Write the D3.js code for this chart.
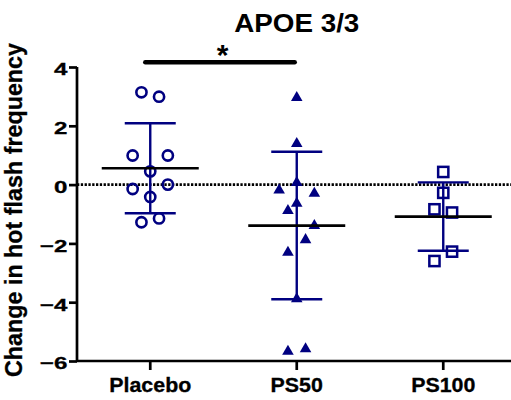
<!DOCTYPE html>
<html>
<head>
<meta charset="utf-8">
<script src="https://cdn.jsdelivr.net/npm/d3@7"></script>
<style>
  html, body { margin: 0; padding: 0; background: #fff; }
  svg { display: block; font-family: "Liberation Sans", Arial, sans-serif; font-weight: bold; }
</style>
</head>
<body>
<svg id="chart" width="511" height="400"></svg>
<script>
// Groups and per-subject change in hot flash frequency
const groups = ["Placebo", "PS50", "PS100"];
const placeboValues = [3.14, 2.99, 0.99, 0.99, 0.45, -0.15, 0.0, -0.42, -1.28, -1.15];
const ps50Values = [2.97, 1.41, 0.08, -0.17, -0.28, -0.62, -0.87, -1.38, -1.86, -2.29, -3.87, -5.66, -5.57];
const ps100Values = [0.43, -0.28, -0.84, -0.95, -2.28, -2.6];
// Horizontal scatter slot for each subject (-2 .. 2)
const placeboSlots = [-1, 1, -2, 2, 0, -2, 2, 0, -1, 1];
const ps50Slots = [0, 0, 0, -2, 2, 0, -1, 2, 1, -1, 0, -1, 1];
const ps100Slots = [0, 0, -1, 1, 1, -1];
const yTicks = [-6, -4, -2, 0, 2, 4];
const title = "APOE 3/3";
const yTitle = "Change in hot flash frequency";
const sigPair = ["Placebo", "PS50"];
const sigLabel = "*";

const navy = "#000080";
const series = [
  { group: "Placebo", values: placeboValues, slots: placeboSlots, shape: "circle" },
  { group: "PS50", values: ps50Values, slots: ps50Slots, shape: "triangle" },
  { group: "PS100", values: ps100Values, slots: ps100Slots, shape: "square" }
];

const svg = d3.select("#chart");
const plotLeft = 77, plotRight = 516.5, plotTop = 67, plotBottom = 361;

const x = d3.scaleBand().domain(groups).range([plotLeft, plotRight]).padding(0);
const y = d3.scaleLinear().domain([-6, 4]).range([plotBottom, plotTop]);
const cx = g => x(g) + x.bandwidth() / 2;
const slotStep = 8.8;

// Title
svg.append("text")
  .attr("transform", `translate(${cx("PS50")},32) scale(1.07,1)`)
  .attr("text-anchor", "middle")
  .attr("font-size", 26)
  .text(title);

// Y axis title
svg.append("text")
  .attr("transform", `translate(22,210) rotate(-90)`)
  .attr("text-anchor", "middle")
  .attr("font-size", 23.3)
  .attr("stroke", "#000").attr("stroke-width", 0.3)
  .text(yTitle);

// Zero reference line
svg.append("line")
  .attr("x1", plotLeft).attr("x2", 511)
  .attr("y1", y(0)).attr("y2", y(0))
  .attr("stroke", "#000").attr("stroke-width", 2.6)
  .attr("stroke-dasharray", "2.3,1.5");

// Axes
const yAxis = svg.append("g")
  .attr("transform", `translate(${plotLeft},0)`)
  .call(d3.axisLeft(y).tickValues(yTicks).tickSize(8).tickFormat(d3.format("d")));
const xAxis = svg.append("g")
  .attr("transform", `translate(0,${plotBottom})`)
  .call(d3.axisBottom(x).tickSize(9));
[yAxis, xAxis].forEach(a => {
  a.select(".domain").attr("stroke", "#000").attr("stroke-width", 2.7);
  a.selectAll(".tick line").attr("stroke", "#000").attr("stroke-width", 2.7);
  a.selectAll(".tick text").attr("fill", "#000")
    .attr("font-family", "Liberation Sans, Arial, sans-serif")
    .attr("font-weight", "bold")
    .attr("stroke", "#000").attr("stroke-width", 0.3);
});
yAxis.select(".domain").attr("d", `M0,${y(4)}V${y(-6)}`);
xAxis.select(".domain").attr("d", `M${plotLeft},0H${plotRight}`);
yAxis.selectAll(".tick text")
  .attr("x", 0).attr("dy", null).attr("y", 7.8)
  .attr("font-size", 17)
  .attr("transform", "translate(-9.5,0) scale(1.42,1)");
xAxis.selectAll(".tick text")
  .attr("y", 0).attr("dy", null)
  .attr("font-size", 20)
  .attr("transform", "translate(0,30.7) scale(1.07,1)");

// Error bars (mean ± SD)
series.forEach(s => {
  const m = d3.mean(s.values), sd = d3.deviation(s.values);
  const c = cx(s.group);
  const g = svg.append("g");
  g.append("line").attr("x1", c).attr("x2", c).attr("y1", y(m + sd)).attr("y2", y(m - sd))
    .attr("stroke", navy).attr("stroke-width", 2.4);
  [m + sd, m - sd].forEach(v => g.append("line")
    .attr("x1", c - 25.5).attr("x2", c + 25.5).attr("y1", y(v)).attr("y2", y(v))
    .attr("stroke", navy).attr("stroke-width", 2.4));
  s.mean = m; s.c = c;
});

// Points
const tri = d3.symbol().type(d3.symbolTriangle).size(58);
series.forEach(s => {
  const g = svg.append("g");
  s.values.forEach((v, i) => {
    const px = s.c + s.slots[i] * slotStep, py = y(v);
    if (s.shape === "circle") {
      g.append("circle").attr("cx", px).attr("cy", py).attr("r", 5.1)
        .attr("fill", "none").attr("stroke", navy).attr("stroke-width", 2.6);
    } else if (s.shape === "triangle") {
      g.append("path").attr("d", tri()).attr("transform", `translate(${px},${py + 0.5})`)
        .attr("fill", navy);
    } else {
      g.append("rect").attr("x", px - 5.1).attr("y", py - 5.1).attr("width", 10.2).attr("height", 10.2)
        .attr("fill", "none").attr("stroke", navy).attr("stroke-width", 2.5);
    }
  });
});

// Mean lines
series.forEach(s => {
  svg.append("line")
    .attr("x1", s.c - 48.5).attr("x2", s.c + 48.5).attr("y1", y(s.mean)).attr("y2", y(s.mean))
    .attr("stroke", "#000").attr("stroke-width", 2.7);
});

// Significance bracket
const sx1 = cx(sigPair[0]) - 5, sx2 = cx(sigPair[1]) - 2;
svg.append("line")
  .attr("x1", sx1).attr("x2", sx2).attr("y1", 62.3).attr("y2", 62.3)
  .attr("stroke", "#000").attr("stroke-width", 4.4).attr("stroke-linecap", "round");
svg.append("text")
  .attr("x", (sx1 + sx2) / 2 + 2.5).attr("y", 64.5)
  .attr("text-anchor", "middle").attr("font-size", 30)
  .text(sigLabel);
</script>
</body>
</html>
